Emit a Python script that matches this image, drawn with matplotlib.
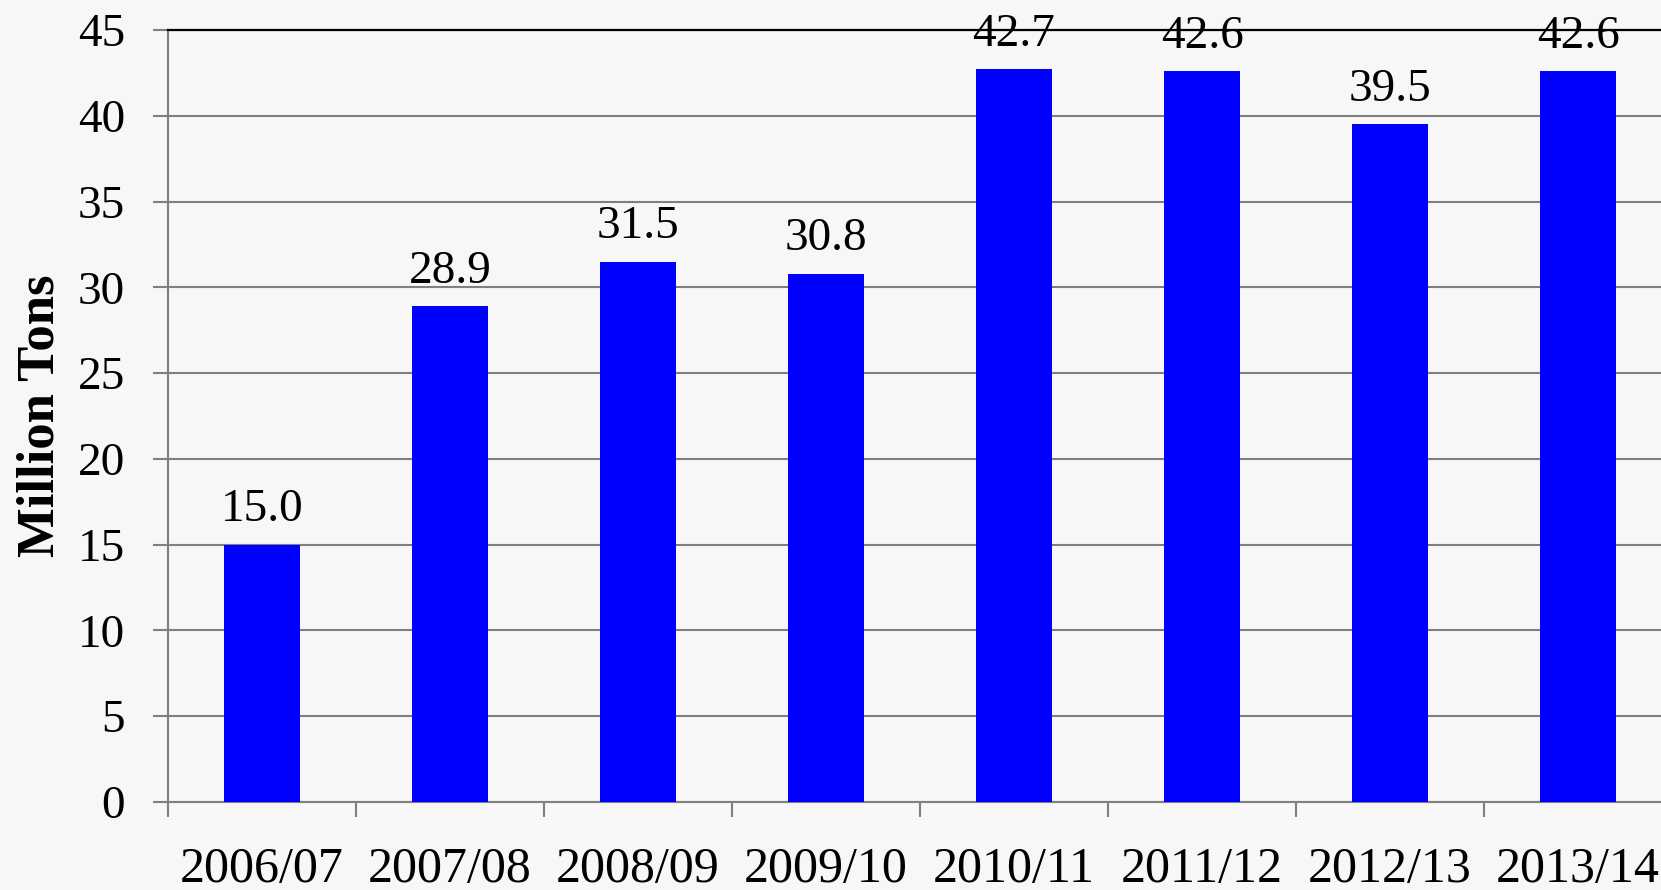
import numpy as np
import matplotlib
matplotlib.use("Agg")
import matplotlib.pyplot as plt
from matplotlib.ticker import FixedLocator

# dados do grafico
seasons = ["2006/07", "2007/08", "2008/09", "2009/10",
           "2010/11", "2011/12", "2012/13", "2013/14"]
tons = [15.0, 28.9, 31.5, 30.8, 42.7, 42.6, 39.5, 42.6]
y_ticks = [0, 5, 10, 15, 20, 25, 30, 35, 40, 45]

plt.rcParams["font.family"] = ["Liberation Serif", "DejaVu Serif"]

bg = "#f7f7f7"
fig = plt.figure(figsize=(16.61, 8.90), dpi=100, facecolor=bg)
# o eixo passa da borda direita, como na imagem original
ax = fig.add_axes([168 / 1661, 88 / 890, 1504 / 1661, 772 / 890])
ax.set_facecolor(bg)

x = np.arange(len(seasons))
ax.bar(x, tons, width=0.4, color="#0000ff", zorder=3)

for xi, v in zip(x, tons):
    ax.annotate(f"{v:.1f}", (xi, v), xytext=(0, 17), textcoords="offset points",
                ha="center", va="baseline", fontsize=34, color="black",
                zorder=6, annotation_clip=False)

ax.set_xlim(-0.5, len(seasons) - 0.5)
ax.set_ylim(0, 45)
ax.yaxis.set_major_locator(FixedLocator(y_ticks))
ax.yaxis.grid(True, color="#808080", linewidth=1.5, zorder=0)
ax.set_axisbelow(True)

ax.set_xticks(x)
ax.set_xticklabels(seasons)
ax.xaxis.set_minor_locator(FixedLocator(np.arange(-0.5, len(seasons), 1.0)))
ax.tick_params(axis="x", which="major", length=0, pad=32, labelsize=36)
ax.tick_params(axis="x", which="minor", length=11, width=1.5, color="#808080")
ax.tick_params(axis="y", length=11, width=1.5, color="#808080", pad=20, labelsize=34)

for s in ["left", "bottom"]:
    ax.spines[s].set_color("#808080")
    ax.spines[s].set_linewidth(1.5)
ax.spines["top"].set_color("black")
ax.spines["top"].set_linewidth(1.6)
ax.spines["right"].set_visible(False)

ax.set_ylabel("Million Tons", fontsize=38, fontweight="bold")
ax.yaxis.set_label_coords(-0.069, 0.5)

fig.savefig("out.png", dpi=100, facecolor=bg)
